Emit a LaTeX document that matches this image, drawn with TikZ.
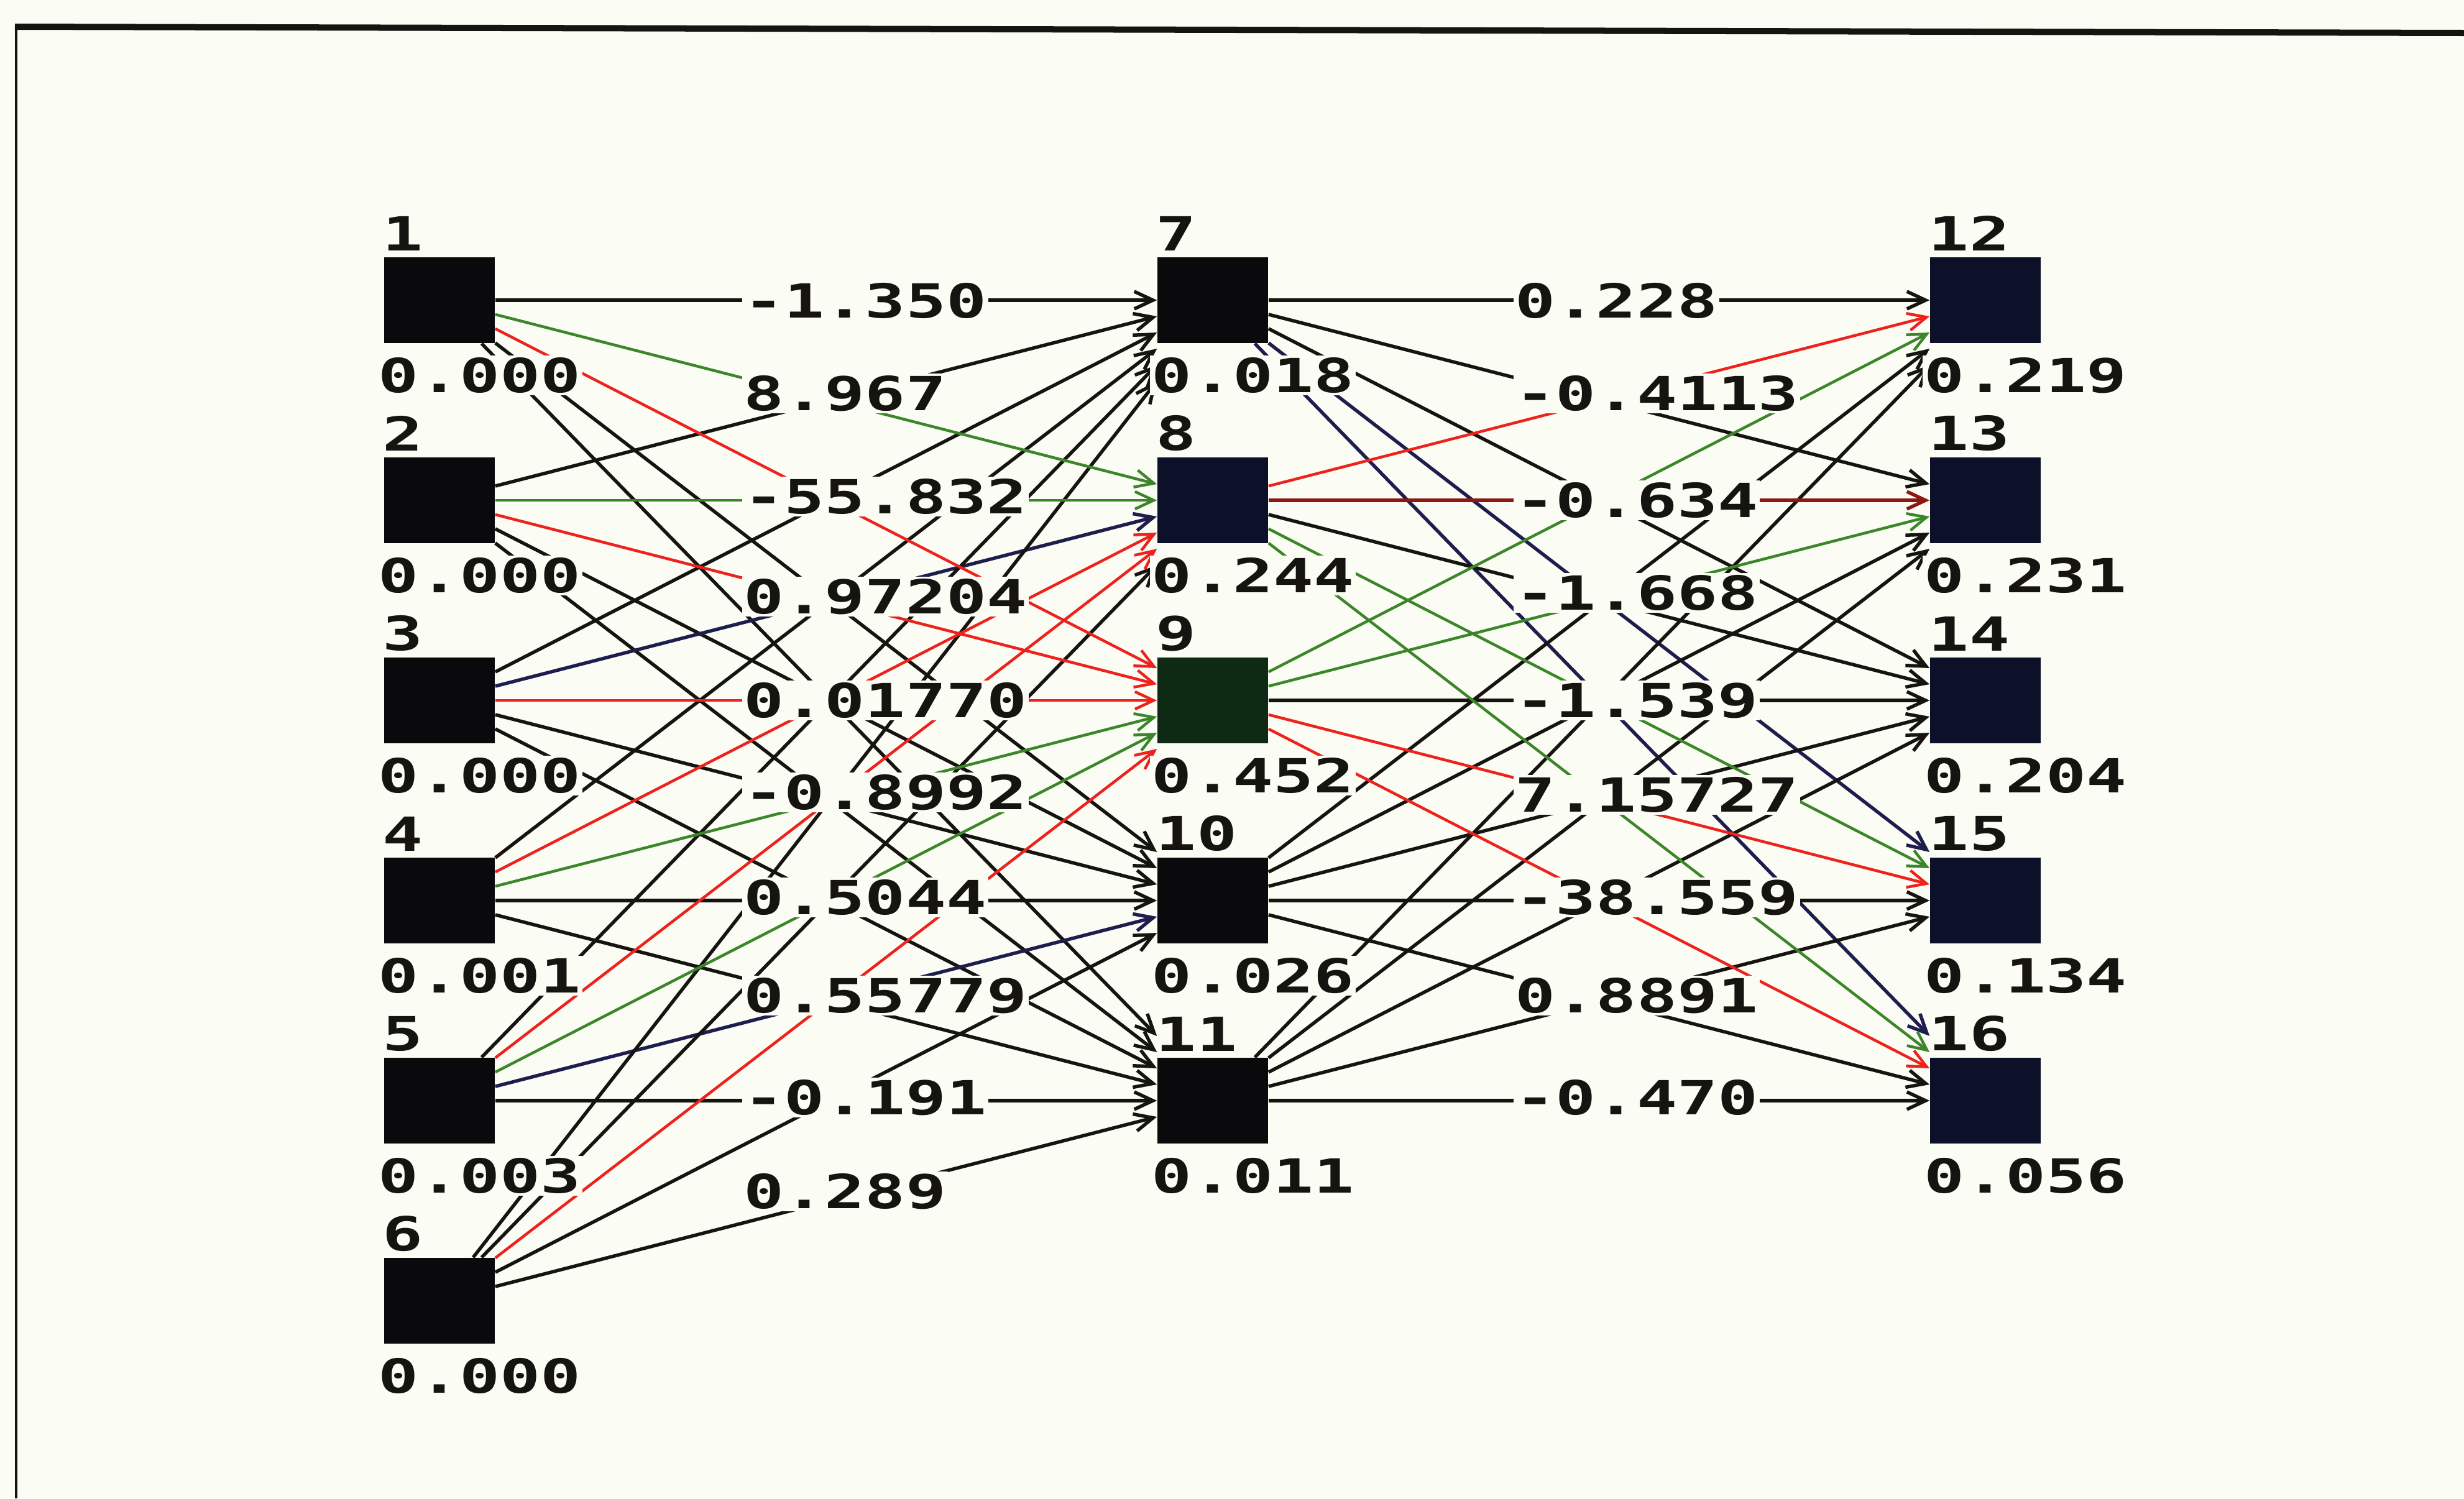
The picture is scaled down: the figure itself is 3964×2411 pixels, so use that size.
\documentclass[tikz,border=0pt]{standalone}
\usepackage{fontspec}
\newfontfamily\termfont[FakeStretch=1.43]{DejaVu Sans Mono}
\usetikzlibrary{positioning,arrows.meta}

\definecolor{paper}{RGB}{251,252,244}
\definecolor{ink}{RGB}{22,20,16}
\definecolor{wred}{RGB}{238,34,28}
\definecolor{wgreen}{RGB}{60,134,42}
\definecolor{wdark}{RGB}{140,24,20}
\definecolor{wnavy}{RGB}{30,30,78}
\definecolor{cblack}{RGB}{10,10,12}
\definecolor{cnavy}{RGB}{12,16,40}
\definecolor{cgreen}{RGB}{14,42,20}

\begin{document}
\begin{tikzpicture}[
  x=0.01cm, y=-0.01cm,
  unit/.style={minimum width=1.78cm, minimum height=1.38cm, inner sep=0pt, fill=cblack},
  unitnavy/.style={unit, fill=cnavy},
  unitgreen/.style={unit, fill=cgreen},
  txt/.style={font=\termfont\bfseries\fontsize{21.5}{24}\selectfont, text=ink, inner sep=0.03cm},
  num/.style={txt, anchor=south west, xshift=-0.05cm, yshift=0.06cm},
  val/.style={txt, fill=paper},
  weight/.style={txt, fill=paper, anchor=west},
  wire/.style={-{Straight Barb[length=0.3cm,width=0.28cm]}, line width=0.055cm, draw=ink},
  wirenavy/.style={wire, draw=wnavy},
  wirered/.style={wire, draw=wred, line width=0.045cm},
  wiregreen/.style={wire, draw=wgreen, line width=0.045cm},
  wiredark/.style={wire, draw=wdark}
]
\useasboundingbox (0,0) rectangle (3964,2411);
\fill[paper] (0,0) rectangle (3964,2411);
\draw[ink, line width=0.04cm] (26,2411) -- (26,43);
\draw[ink, line width=0.1cm] (24,43) -- (3964,53);

\node[unit, label={[num]north west:1}] (n1) at (707,483) {};
\node[unit, label={[num]north west:2}] (n2) at (707,805) {};
\node[unit, label={[num]north west:3}] (n3) at (707,1127) {};
\node[unit, label={[num]north west:4}] (n4) at (707,1449) {};
\node[unit, label={[num]north west:5}] (n5) at (707,1771) {};
\node[unit, label={[num]north west:6}] (n6) at (707,2093) {};
\node[unit, label={[num]north west:7}] (n7) at (1951,483) {};
\node[unitnavy, label={[num]north west:8}] (n8) at (1951,805) {};
\node[unitgreen, label={[num]north west:9}] (n9) at (1951,1127) {};
\node[unit, label={[num]north west:10}] (n10) at (1951,1449) {};
\node[unit, label={[num]north west:11}] (n11) at (1951,1771) {};
\node[unitnavy, label={[num]north west:12}] (n12) at (3194,483) {};
\node[unitnavy, label={[num]north west:13}] (n13) at (3194,805) {};
\node[unitnavy, label={[num]north west:14}] (n14) at (3194,1127) {};
\node[unitnavy, label={[num]north west:15}] (n15) at (3194,1449) {};
\node[unitnavy, label={[num]north west:16}] (n16) at (3194,1771) {};

% input -> hidden
\draw[wire] (n1) -- (n7.west);
\draw[wire] (n1) -- ([yshift=0.78cm]n10.west);
\draw[wire] (n1) -- ([yshift=1.04cm]n11.west);
\draw[wire] (n2) -- ([yshift=-0.26cm]n7.west);
\draw[wire] (n2) -- ([yshift=0.52cm]n10.west);
\draw[wire] (n2) -- ([yshift=0.78cm]n11.west);
\draw[wire] (n3) -- ([yshift=-0.52cm]n7.west);
\draw[wirenavy] (n3) -- ([yshift=-0.26cm]n8.west);
\draw[wire] (n3) -- ([yshift=0.26cm]n10.west);
\draw[wire] (n3) -- ([yshift=0.52cm]n11.west);
\draw[wire] (n4) -- ([yshift=-0.78cm]n7.west);
\draw[wire] (n4) -- (n10.west);
\draw[wire] (n4) -- ([yshift=0.26cm]n11.west);
\draw[wire] (n5) -- ([yshift=-1.04cm]n7.west);
\draw[wirenavy] (n5) -- ([yshift=-0.26cm]n10.west);
\draw[wire] (n5) -- (n11.west);
\draw[wire] (n6) -- ([yshift=-1.3cm]n7.west);
\draw[wire] (n6) -- ([yshift=-1.04cm]n8.west);
\draw[wire] (n6) -- ([yshift=-0.52cm]n10.west);
\draw[wire] (n6) -- ([yshift=-0.26cm]n11.west);
\draw[wiregreen] (n1) -- ([yshift=0.26cm]n8.west);
\draw[wiregreen] (n2) -- (n8.west);
\draw[wirered] (n4) -- ([yshift=-0.52cm]n8.west);
\draw[wirered] (n5) -- ([yshift=-0.78cm]n8.west);
\draw[wirered] (n1) -- ([yshift=0.52cm]n9.west);
\draw[wirered] (n2) -- ([yshift=0.26cm]n9.west);
\draw[wirered] (n3) -- (n9.west);
\draw[wiregreen] (n4) -- ([yshift=-0.26cm]n9.west);
\draw[wiregreen] (n5) -- ([yshift=-0.52cm]n9.west);
\draw[wirered] (n6) -- ([yshift=-0.78cm]n9.west);

% hidden -> output
\draw[wire] (n7) -- (n12.west);
\draw[wire] (n7) -- ([yshift=0.26cm]n13.west);
\draw[wire] (n7) -- ([yshift=0.52cm]n14.west);
\draw[wirenavy] (n7) -- ([yshift=0.78cm]n15.west);
\draw[wirenavy] (n7) -- ([yshift=1.04cm]n16.west);
\draw[wire] (n8) -- ([yshift=0.26cm]n14.west);
\draw[wire] (n9) -- (n14.west);
\draw[wire] (n10) -- ([yshift=-0.78cm]n12.west);
\draw[wire] (n10) -- ([yshift=-0.52cm]n13.west);
\draw[wire] (n10) -- ([yshift=-0.26cm]n14.west);
\draw[wire] (n10) -- (n15.west);
\draw[wire] (n10) -- ([yshift=0.26cm]n16.west);
\draw[wire] (n11) -- ([yshift=-1.04cm]n12.west);
\draw[wire] (n11) -- ([yshift=-0.78cm]n13.west);
\draw[wire] (n11) -- ([yshift=-0.52cm]n14.west);
\draw[wire] (n11) -- ([yshift=-0.26cm]n15.west);
\draw[wire] (n11) -- (n16.west);
\draw[wirered] (n8) -- ([yshift=-0.26cm]n12.west);
\draw[wiredark] (n8) -- (n13.west);
\draw[wiregreen] (n8) -- ([yshift=0.52cm]n15.west);
\draw[wiregreen] (n8) -- ([yshift=0.78cm]n16.west);
\draw[wiregreen] (n9) -- ([yshift=-0.52cm]n12.west);
\draw[wiregreen] (n9) -- ([yshift=-0.26cm]n13.west);
\draw[wirered] (n9) -- ([yshift=0.26cm]n15.west);
\draw[wirered] (n9) -- ([yshift=0.52cm]n16.west);

% activations under the units
\node[val, below right=0.19cm and -0.12cm of n1.south west] (a1) {0.000};
\node[val, below right=0.19cm and -0.12cm of n2.south west] (a2) {0.000};
\node[val, below right=0.19cm and -0.12cm of n3.south west] (a3) {0.000};
\node[val, below right=0.19cm and -0.12cm of n4.south west] (a4) {0.001};
\node[val, below right=0.19cm and -0.12cm of n5.south west] (a5) {0.003};
\node[val, below right=0.19cm and -0.12cm of n6.south west] (a6) {0.000};
\node[val, below right=0.19cm and -0.12cm of n7.south west] (a7) {0.018};
\node[val, below right=0.19cm and -0.12cm of n8.south west] (a8) {0.244};
\node[val, below right=0.19cm and -0.12cm of n9.south west] (a9) {0.452};
\node[val, below right=0.19cm and -0.12cm of n10.south west] (a10) {0.026};
\node[val, below right=0.19cm and -0.12cm of n11.south west] (a11) {0.011};
\node[val, below right=0.19cm and -0.12cm of n12.south west] (a12) {0.219};
\node[val, below right=0.19cm and -0.12cm of n13.south west] (a13) {0.231};
\node[val, below right=0.19cm and -0.12cm of n14.south west] (a14) {0.204};
\node[val, below right=0.19cm and -0.12cm of n15.south west] (a15) {0.134};
\node[val, below right=0.19cm and -0.12cm of n16.south west] (a16) {0.056};

% weights
\node[weight] (w1) at (1193,484) {-1.350};
\node[weight] (w2) at (1193,633) {8.967};
\node[weight] (w3) at (1193,799) {-55.832};
\node[weight] (w4) at (1193,960) {0.97204};
\node[weight] (w5) at (1193,1127) {0.01770};
\node[weight] (w6) at (1193,1275) {-0.8992};
\node[weight] (w7) at (1193,1444) {0.5044};
\node[weight] (w8) at (1193,1602) {0.55779};
\node[weight] (w9) at (1193,1766) {-0.191};
\node[weight] (w10) at (1193,1917) {0.289};
\node[weight] (v1) at (2434,484) {0.228};
\node[weight] (v2) at (2434,633) {-0.4113};
\node[weight] (v3) at (2434,805) {-0.634};
\node[weight] (v4) at (2434,954) {-1.668};
\node[weight] (v5) at (2434,1127) {-1.539};
\node[weight] (v6) at (2434,1279) {7.15727};
\node[weight] (v7) at (2434,1444) {-38.559};
\node[weight] (v8) at (2434,1602) {0.8891};
\node[weight] (v9) at (2434,1766) {-0.470};
\end{tikzpicture}
\end{document}
